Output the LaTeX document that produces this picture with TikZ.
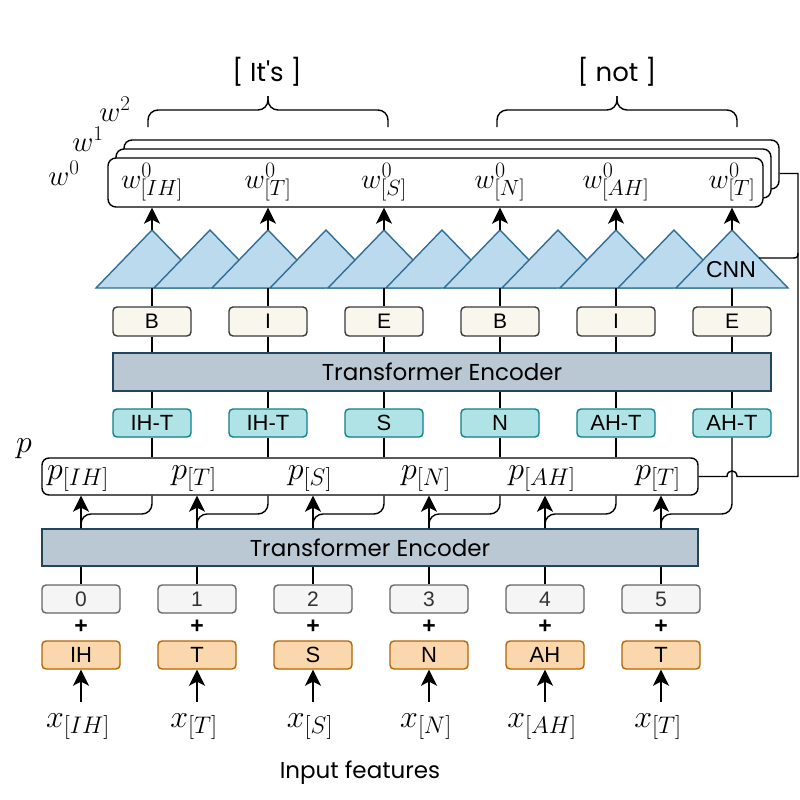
\documentclass[tikz,border=0pt]{standalone}
\usepackage{fix-cm}
\usepackage{fontspec}
\newfontfamily\pop{Poppins}
\newfontfamily\lib{Liberation Sans}
\usetikzlibrary{arrows.meta}
% larger script sizes for the sequence labels
\DeclareMathSizes{32}{32}{24}{17}
\DeclareMathSizes{29}{29}{21}{15}
\DeclareMathSizes{28}{28}{22}{15}

\definecolor{tokfill}{HTML}{F9F7ED}
\definecolor{tokline}{HTML}{36393D}
\definecolor{phonfill}{HTML}{B0E3E6}
\definecolor{phonline}{HTML}{0E8088}
\definecolor{encfill}{HTML}{BAC8D3}
\definecolor{encline}{HTML}{23445D}
\definecolor{posfill}{HTML}{F5F5F5}
\definecolor{posline}{HTML}{666666}
\definecolor{postext}{HTML}{333333}
\definecolor{inpfill}{HTML}{FAD7AC}
\definecolor{inpline}{HTML}{B46504}
\definecolor{trifill}{HTML}{BBDAED}
\definecolor{triline}{HTML}{2F6E98}

\begin{document}
\begin{tikzpicture}[x=1pt,y=-1pt,
  ln/.style={line width=1.4pt, draw=black},
  arr/.style={ln, -{Stealth[length=16pt,width=16pt,inset=4pt]}},
  bx/.style={draw, line width=1.4pt, rounded corners=4pt, minimum width=78pt,
    minimum height=28pt, inner sep=0pt, font=\lib\fontsize{22}{25}\selectfont},
  tokbox/.style={bx, fill=tokfill, draw=tokline, minimum height=29pt,
    font=\lib\fontsize{21}{24}\selectfont},
  phonbox/.style={bx, fill=phonfill, draw=phonline},
  posbox/.style={bx, fill=posfill, draw=posline, text=postext,
    font=\lib\fontsize{21}{24}\selectfont},
  inpbox/.style={bx, fill=inpfill, draw=inpline},
  encbox/.style={draw=encline, fill=encfill, line width=1.4pt, minimum height=38pt,
    inner sep=0pt, font=\pop\fontsize{23}{26}\selectfont},
  tri/.style={fill=trifill, draw=triline, line width=1.4pt, line join=miter},
  seqbox/.style={draw, fill=white, line width=1.4pt, rounded corners=8pt,
    minimum height=49pt, minimum width=655pt, inner sep=0pt},
  mth/.style={inner sep=0pt, anchor=base},
  big/.style={font=\fontsize{32}{34}\selectfont},
  side/.style={font=\fontsize{29}{31}\selectfont},
  mid/.style={font=\fontsize{28}{30}\selectfont},
  ttl/.style={font=\pop\fontsize{26}{30}\selectfont},
]
\fill[white] (0,0) rectangle (800,800);
\useasboundingbox (0,0) rectangle (800,800);

% ---- group labels and braces
\node[ttl] (gl1) at (267,72) {[ It's ]};
\node[ttl] (gl2) at (617,72) {[ not ]};
\draw[ln, rounded corners=10pt] (148,127) -- (148,110) -- (268,110) -- (268,96);
\draw[ln, rounded corners=10pt] (268,96) -- (268,110) -- (388,110) -- (388,127);
\draw[ln, rounded corners=10pt] (497,127) -- (497,110) -- (617,110) -- (617,96);
\draw[ln, rounded corners=10pt] (617,96) -- (617,110) -- (737,110) -- (737,127);

% ---- stacked word sequences
\node[seqbox] (w2box) at (451.5,164.5) {};
\node[seqbox] (w1box) at (443.5,173.5) {};
\node[seqbox] (w0box) at (435.5,182.5) {};
\node[mth,side] (lw2) at (115,121) {$w^2$};
\node[mth,side] (lw1) at (88,151) {$w^1$};
\node[mth,side] (lw0) at (64,185) {$w^0$};
\foreach \k/\s in {0/IH,1/T,2/S,3/N,4/AH,5/T}
  \node[mth,mid] (w\k) at ({152+116*\k},188) {$w^0_{[\s]}$};

% ---- CNN triangles
\foreach \j in {0,...,10}
  \draw[tri] ({96+58*\j},288) -- ({152+58*\j},230) -- ({208+58*\j},288) -- cycle;
\node[font=\lib\fontsize{23}{26}\selectfont] (cnn) at (731,270) {CNN};

% ---- upper token rows
\foreach \k/\t in {0/B,1/I,2/E,3/B,4/I,5/E}
  \node[tokbox] (t\k) at ({152+116*\k},321.5) {\t};
\node[encbox, minimum width=658pt] (uenc) at (442,372) {Transformer Encoder};
\foreach \k/\t in {0/IH-T,1/IH-T,2/S,3/N,4/AH-T,5/AH-T}
  \node[phonbox] (ph\k) at ({152+116*\k},423) {\t};

% ---- phoneme sequence
\node[seqbox, minimum width=656pt, minimum height=37pt, rounded corners=7pt]
  (pbox) at (370,476.5) {};
\node[mth,big] (lp) at (24,452) {$p$};
\foreach \k/\s in {0/IH,1/T,2/S,3/N,4/AH,5/T}
  \node[mth,big] (p\k) at ({78+116*\k},479) {$p_{[\s]}$};

% ---- lower rows
\node[encbox, minimum width=656pt, minimum height=37pt] (lenc) at (370,547.5)
  {Transformer Encoder};
\foreach \k in {0,...,5}{
  \node[posbox] (pos\k) at ({81+116*\k},599) {\k};
  \node[font=\lib\bfseries\fontsize{23}{26}\selectfont] (plus\k) at ({81+116*\k},627) {+};
}
\foreach \k/\t in {0/IH,1/T,2/S,3/N,4/AH,5/T}
  \node[inpbox] (in\k) at ({81+116*\k},655) {\t};
\foreach \k/\s in {0/IH,1/T,2/S,3/N,4/AH,5/T}{
  \node[mth,big] (x\k) at ({78+116*\k},727) {$x_{[\s]}$};
  \coordinate (xs\k) at ({81+116*\k},702);
}
\node[font=\pop\fontsize{23}{26}\selectfont] (feat) at (360,773) {Input features};

% ---- connectors, upper part
\foreach \k in {0,...,5}{
  \coordinate (apex\k) at ({152+116*\k},230);
  \coordinate (foot\k) at ({152+116*\k},288);
  \draw[arr] (apex\k) -- (apex\k |- w0box.south);
  \draw[ln] (foot\k) -- (t\k.north);
  \draw[ln] (t\k.south) -- (t\k |- uenc.north);
  \draw[ln] (ph\k |- uenc.south) -- (ph\k.north);
}
% ---- connectors, phoneme sequence and skip paths
\foreach \k in {0,...,4}{
  \coordinate (m\k) at ({81+116*\k},514);
  \draw[ln] (ph\k.south) -- (ph\k |- pbox.north);
  \draw[ln, rounded corners=10pt] (ph\k |- pbox.south) -- (ph\k |- m\k) -- (m\k)
    -- (pos\k |- lenc.north);
}
\coordinate (m5) at (661,514);
\draw[ln, rounded corners=10pt] (ph5.south) -- (ph5 |- m5) -- (m5) -- (pos5 |- lenc.north);
\foreach \k in {0,...,5}{
  \draw[arr] (pos\k |- lenc.north) -- (pos\k |- pbox.south);
  \draw[ln] (pos\k |- lenc.south) -- (pos\k.north);
  \draw[arr] (xs\k) -- (in\k.south);
}

% ---- feedback path to the word sequences
\coordinate (wj) at (w2box.east |- w1box.center);
\coordinate (hopL) at (727,476.5);
\coordinate (hopR) at (737,476.5);
\coordinate (rb) at (798,476.5);
\coordinate (rt) at (798,173.5);
\draw[ln] (pbox.east) -- (hopL) .. controls (727,469) and (737,469) .. (hopR)
  -- (rb) -- (rt) -- (wj);
\coordinate (cnnR) at (759,258);
\coordinate (cnnJ) at (798,253);
\draw[ln] (cnnR) -- (793,258) .. controls (797,258) and (798,257) .. (cnnJ);
\end{tikzpicture}
\end{document}
